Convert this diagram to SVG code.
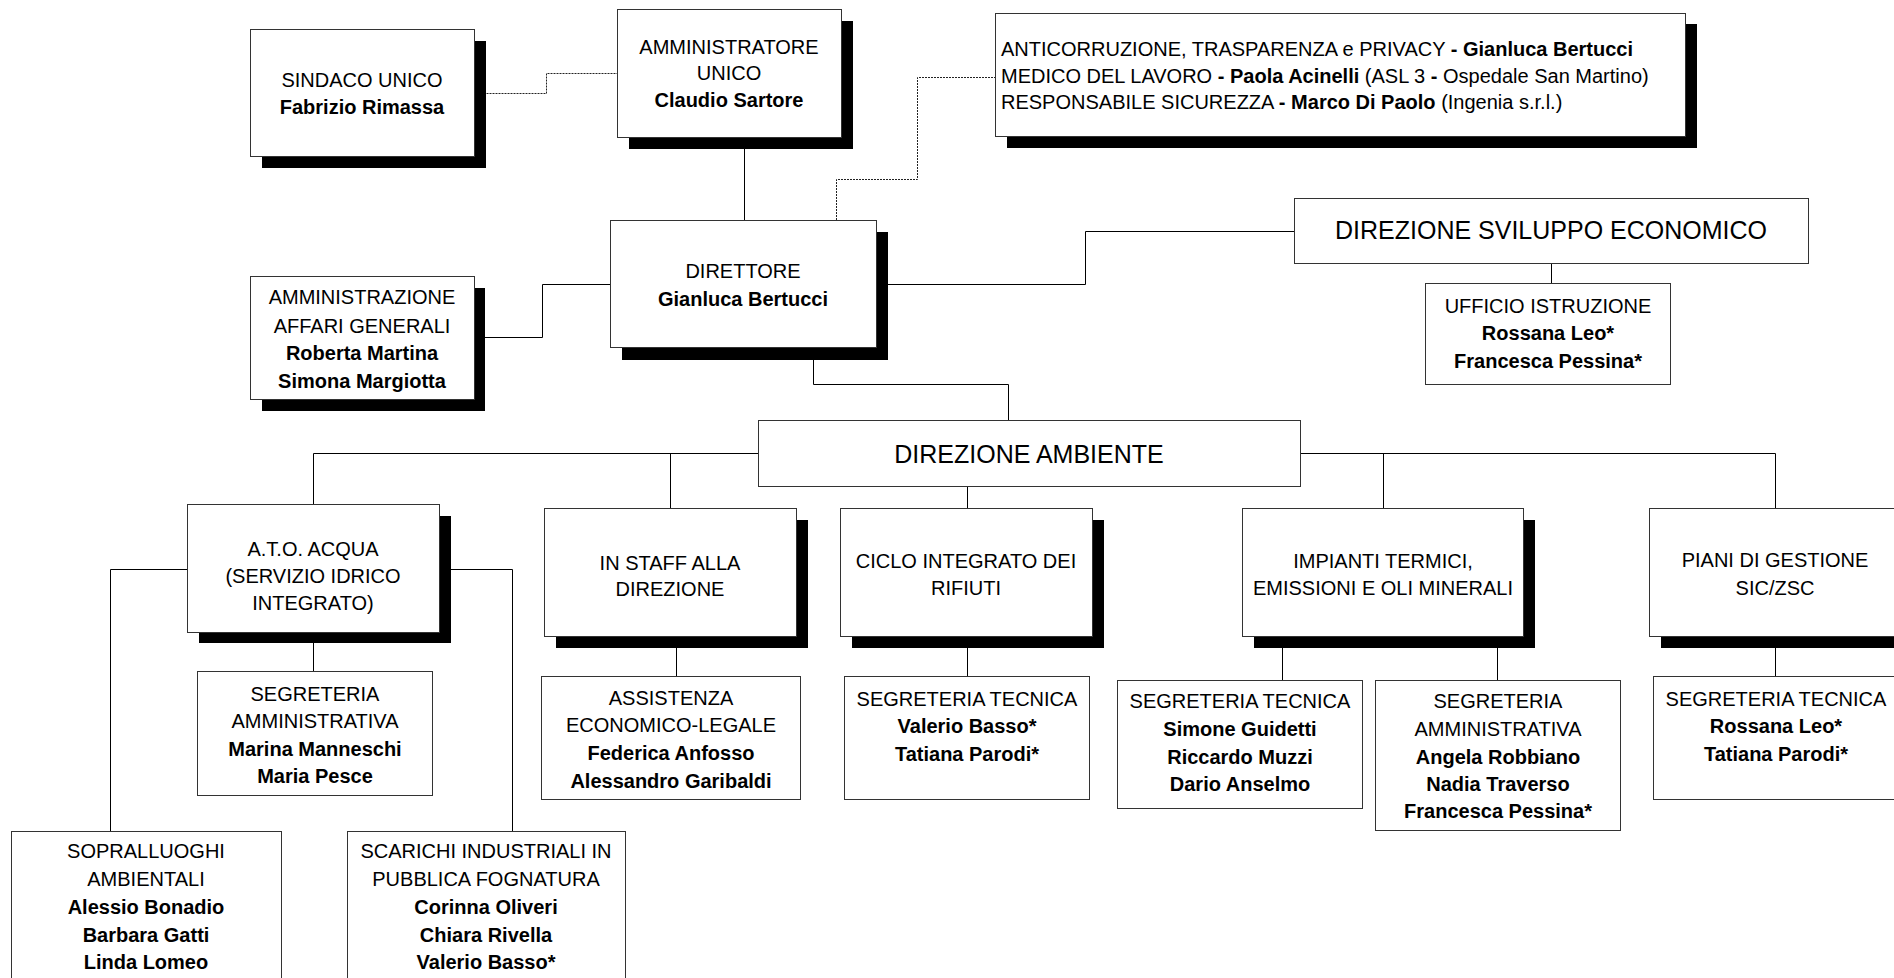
<svg xmlns="http://www.w3.org/2000/svg" width="1894" height="978" viewBox="0 0 1894 978">
<style>
.box{fill:#fff;stroke:#333;stroke-width:1}
.sh{fill:#000}
text{font-family:"Liberation Sans",Arial,sans-serif;font-size:20px;fill:#000}
.c{text-anchor:middle}
.b{font-weight:bold}
.big{font-size:25px}
.conn{fill:none;stroke:#000;stroke-width:1}
.dot{stroke:#222;stroke-dasharray:2 1}
</style>
<rect x="0" y="0" width="1894" height="978" fill="#fff"/>
<g id="connectors">
<path class="conn dot" d="M474.5,93.5H546.5V73.5H617"/>
<path class="conn" d="M744.5,137V220"/>
<path class="conn dot" d="M836.5,220V179.5H917.5V77.5H995"/>
<path class="conn" d="M474,337.5H542.5V284.5H610"/>
<path class="conn" d="M876,284.5H1085.5V231.5H1294"/>
<path class="conn" d="M1551.5,263V283"/>
<path class="conn" d="M813.5,347V384.5H1008.5V420"/>
<path class="conn" d="M313.5,504V453.5H758M1300,453.5H1775.5V508"/>
<path class="conn" d="M670.5,453.5V508M1383.5,453.5V508M967.5,486V508"/>
<path class="conn" d="M313.5,632V671"/>
<path class="conn" d="M187,569.5H110.5V831"/>
<path class="conn" d="M439,569.5H512.5V831"/>
<path class="conn" d="M676.5,636V676"/>
<path class="conn" d="M967.5,636V676"/>
<path class="conn" d="M1282.5,636V680"/>
<path class="conn" d="M1497.5,636V680"/>
<path class="conn" d="M1775.5,636V676"/>
</g>
<g id="sindaco">
<rect class="sh" x="262" y="41" width="224" height="127"/>
<rect class="box" x="250.5" y="29.5" width="224" height="127"/>
<text class="c" x="362" y="87">SINDACO UNICO</text>
<text class="c b" x="362" y="114">Fabrizio Rimassa</text>
</g>
<g id="amministratore">
<rect class="sh" x="629" y="21" width="224" height="128"/>
<rect class="box" x="617.5" y="9.5" width="224" height="128"/>
<text class="c" x="729" y="54">AMMINISTRATORE</text>
<text class="c" x="729" y="80">UNICO</text>
<text class="c b" x="729" y="107">Claudio Sartore</text>
</g>
<g id="anticorruzione">
<rect class="sh" x="1007" y="24" width="690" height="124"/>
<rect class="box" x="995.5" y="13.5" width="690" height="123"/>
<text x="1001" y="55.5">ANTICORRUZIONE, TRASPARENZA e PRIVACY <tspan class="b">-</tspan> <tspan class="b">Gianluca Bertucci</tspan></text>
<text x="1001" y="83">MEDICO DEL LAVORO <tspan class="b">-</tspan> <tspan class="b">Paola Acinelli</tspan> (ASL 3 <tspan class="b">-</tspan> Ospedale San Martino)</text>
<text x="1001" y="109">RESPONSABILE SICUREZZA <tspan class="b">-</tspan> <tspan class="b">Marco Di Paolo</tspan> (Ingenia s.r.l.)</text>
</g>
<g id="direttore">
<rect class="sh" x="622" y="232" width="266" height="128"/>
<rect class="box" x="610.5" y="220.5" width="266" height="127"/>
<text class="c" x="743" y="278">DIRETTORE</text>
<text class="c b" x="743" y="306">Gianluca Bertucci</text>
</g>
<g id="affari-generali">
<rect class="sh" x="262" y="288" width="223" height="123"/>
<rect class="box" x="250.5" y="276.5" width="224" height="123"/>
<text class="c" x="362" y="304">AMMINISTRAZIONE</text>
<text class="c" x="362" y="333">AFFARI GENERALI</text>
<text class="c b" x="362" y="360">Roberta Martina</text>
<text class="c b" x="362" y="388">Simona Margiotta</text>
</g>
<g id="sviluppo-economico">
<rect class="box" x="1294.5" y="198.5" width="514" height="65"/>
<text class="c big" x="1551" y="239">DIREZIONE SVILUPPO ECONOMICO</text>
</g>
<g id="ufficio-istruzione">
<rect class="box" x="1425.5" y="283.5" width="245" height="101"/>
<text class="c" x="1548" y="313">UFFICIO ISTRUZIONE</text>
<text class="c b" x="1548" y="340">Rossana Leo*</text>
<text class="c b" x="1548" y="368">Francesca Pessina*</text>
</g>
<g id="direzione-ambiente">
<rect class="box" x="758.5" y="420.5" width="542" height="66"/>
<text class="c big" x="1029" y="463">DIREZIONE AMBIENTE</text>
</g>
<g id="ato-acqua">
<rect class="sh" x="199" y="516" width="252" height="127"/>
<rect class="box" x="187.5" y="504.5" width="252" height="128"/>
<text class="c" x="313" y="556">A.T.O. ACQUA</text>
<text class="c" x="313" y="583">(SERVIZIO IDRICO</text>
<text class="c" x="313" y="610">INTEGRATO)</text>
</g>
<g id="segreteria-amm-ato">
<rect class="box" x="197.5" y="671.5" width="235" height="124"/>
<text class="c" x="315" y="701">SEGRETERIA</text>
<text class="c" x="315" y="728">AMMINISTRATIVA</text>
<text class="c b" x="315" y="756">Marina Manneschi</text>
<text class="c b" x="315" y="783">Maria Pesce</text>
</g>
<g id="sopralluoghi">
<rect class="box" x="11.5" y="831.5" width="270" height="160"/>
<text class="c" x="146" y="858">SOPRALLUOGHI</text>
<text class="c" x="146" y="886">AMBIENTALI</text>
<text class="c b" x="146" y="914">Alessio Bonadio</text>
<text class="c b" x="146" y="942">Barbara Gatti</text>
<text class="c b" x="146" y="969">Linda Lomeo</text>
</g>
<g id="scarichi">
<rect class="box" x="347.5" y="831.5" width="278" height="160"/>
<text class="c" x="486" y="858">SCARICHI INDUSTRIALI IN</text>
<text class="c" x="486" y="886">PUBBLICA FOGNATURA</text>
<text class="c b" x="486" y="914">Corinna Oliveri</text>
<text class="c b" x="486" y="942">Chiara Rivella</text>
<text class="c b" x="486" y="969">Valerio Basso*</text>
</g>
<g id="in-staff">
<rect class="sh" x="556" y="520" width="252" height="128"/>
<rect class="box" x="544.5" y="508.5" width="252" height="128"/>
<text class="c" x="670" y="570">IN STAFF ALLA</text>
<text class="c" x="670" y="596">DIREZIONE</text>
</g>
<g id="assistenza">
<rect class="box" x="541.5" y="676.5" width="259" height="123"/>
<text class="c" x="671" y="705">ASSISTENZA</text>
<text class="c" x="671" y="732">ECONOMICO-LEGALE</text>
<text class="c b" x="671" y="760">Federica Anfosso</text>
<text class="c b" x="671" y="788">Alessandro Garibaldi</text>
</g>
<g id="ciclo-rifiuti">
<rect class="sh" x="852" y="520" width="252" height="128"/>
<rect class="box" x="840.5" y="508.5" width="252" height="128"/>
<text class="c" x="966" y="568">CICLO INTEGRATO DEI</text>
<text class="c" x="966" y="595">RIFIUTI</text>
</g>
<g id="segreteria-tec-ciclo">
<rect class="box" x="844.5" y="676.5" width="245" height="123"/>
<text class="c" x="967" y="706">SEGRETERIA TECNICA</text>
<text class="c b" x="967" y="733">Valerio Basso*</text>
<text class="c b" x="967" y="761">Tatiana Parodi*</text>
</g>
<g id="impianti">
<rect class="sh" x="1254" y="520" width="281" height="128"/>
<rect class="box" x="1242.5" y="508.5" width="281" height="128"/>
<text class="c" x="1383" y="568">IMPIANTI TERMICI,</text>
<text class="c" x="1383" y="595">EMISSIONI E OLI MINERALI</text>
</g>
<g id="segreteria-tec-impianti">
<rect class="box" x="1117.5" y="680.5" width="245" height="128"/>
<text class="c" x="1240" y="708">SEGRETERIA TECNICA</text>
<text class="c b" x="1240" y="736">Simone Guidetti</text>
<text class="c b" x="1240" y="764">Riccardo Muzzi</text>
<text class="c b" x="1240" y="791">Dario Anselmo</text>
</g>
<g id="segreteria-amm-impianti">
<rect class="box" x="1375.5" y="680.5" width="245" height="150"/>
<text class="c" x="1498" y="708">SEGRETERIA</text>
<text class="c" x="1498" y="736">AMMINISTRATIVA</text>
<text class="c b" x="1498" y="764">Angela Robbiano</text>
<text class="c b" x="1498" y="791">Nadia Traverso</text>
<text class="c b" x="1498" y="818">Francesca Pessina*</text>
</g>
<g id="piani-gestione">
<rect class="sh" x="1661" y="520" width="252" height="128"/>
<rect class="box" x="1649.5" y="508.5" width="252" height="128"/>
<text class="c" x="1775" y="567">PIANI DI GESTIONE</text>
<text class="c" x="1775" y="595">SIC/ZSC</text>
</g>
<g id="segreteria-tec-piani">
<rect class="box" x="1653.5" y="676.5" width="245" height="123"/>
<text class="c" x="1776" y="706">SEGRETERIA TECNICA</text>
<text class="c b" x="1776" y="733">Rossana Leo*</text>
<text class="c b" x="1776" y="761">Tatiana Parodi*</text>
</g>
</svg>
